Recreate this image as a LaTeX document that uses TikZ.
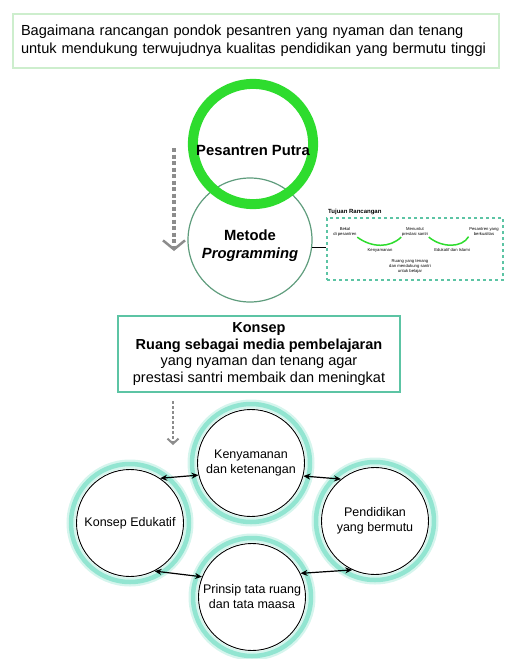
\documentclass[tikz,border=0pt]{standalone}
\usepackage{fontspec}
\setmainfont{Liberation Sans}
\usetikzlibrary{arrows,arrows.meta}
\definecolor{palegreen}{HTML}{CDEECD}
\definecolor{ringgreen}{HTML}{2EDC2E}
\definecolor{metgreen}{HTML}{5E9C7C}
\definecolor{boxteal}{HTML}{5CC4A4}
\definecolor{ringteal}{HTML}{86E2CC}
\definecolor{arrgray}{HTML}{8C8C8C}

\begin{document}
\begin{tikzpicture}[x=1pt,y=-1pt,>={Stealth[length=7pt,width=6pt]},
    big/.style={font=\fontsize{14.6}{18}\selectfont},
    tiny/.style={font=\fontsize{4.2}{5}\selectfont, align=center, inner sep=0.5pt},
    topic/.style={circle, draw=black, line width=0.9pt, minimum size=107pt,
      inner sep=0pt, align=center, font=\fontsize{12.5}{15}\selectfont},
    glow/.style={draw=ringteal!35, line width=9pt},
    glowcore/.style={draw=ringteal!90, line width=4.5pt},
    link/.style={<->, line width=1.2pt}]
    \useasboundingbox (0,0) rectangle (505,659);
    \node[big, draw=palegreen, line width=2pt, text width=470pt, inner xsep=8pt,
      minimum height=54pt, align=left] (Q) at (256,41)
      {Bagaimana rancangan pondok pesantren yang nyaman dan tenang\\
       untuk mendukung terwujudnya kualitas pendidikan yang bermutu tinggi};
    \node[circle, draw=metgreen, line width=1.2pt, minimum size=124pt, align=center,
      font=\bfseries\fontsize{14.8}{18}\selectfont] (M) at (250,240)
      {\\[5pt]Metode\\\textit{Programming}};
    \node[circle, draw=ringgreen, line width=10pt, minimum size=118pt,
      font=\bfseries\fontsize{14.8}{18}\selectfont] (P) at (253,144)
      {\raisebox{-11pt}[0pt][0pt]{Pesantren Putra}};
    \node[draw=boxteal, dashed, line width=1.2pt, minimum width=176pt,
      minimum height=62pt] (T) at (415,249) {};
    \node[anchor=south west, inner sep=1pt, font=\bfseries\fontsize{6}{7}\selectfont]
      (Tt) at (327,216) {Tujuan Rancangan};
    \node[tiny] (t1) at (345,232) {Bekal\\di pesantren};
    \node[tiny] (t2) at (415,232) {Menuntut\\prestasi santri};
    \node[tiny] (t3) at (484,232) {Pesantren yang\\berkualitas};
    \node[tiny] (t4) at (380,250) {Kenyamanan};
    \node[tiny] (t5) at (452,250) {Edukatif dan Islami};
    \node[tiny] (t6) at (410,266) {Ruang yang tenang\\dan mendukung santri\\untuk belajar};
    \draw[ringgreen, line width=1.5pt] (t1.south east) .. controls (372,248) and (390,248) .. (t2.south west);
    \draw[ringgreen, line width=1.5pt] (t2.south east) .. controls (442,248) and (462,248) .. (t3.south west);
    \draw[line width=1.2pt] (M.-7) -- (M.-7 -| T.west);
    \node[draw=boxteal, line width=2pt, minimum width=282pt, minimum height=76pt,
      align=center, font=\fontsize{14.5}{16.6}\selectfont] (K) at (259,354)
      {\textbf{Konsep}\\\textbf{Ruang sebagai media pembelajaran}\\
       yang nyaman dan tenang agar\\prestasi santri membaik dan meningkat};
    \node[topic] (ken) at (251,463) {Kenyamanan\\dan ketenangan};
    \node[topic] (pen) at (375,521) {Pendidikan\\yang bermutu};
    \node[topic] (pri) at (252,597) {Prinsip tata ruang\\dan tata maasa};
    \node[topic] (edu) at (130,523) {Konsep Edukatif};
    \foreach \n in {ken,pen,pri,edu} {
      \draw[glow] (\n) circle (59pt);
      \draw[glowcore] (\n) circle (59pt);
    }
    \draw[link] (edu.56) -- (ken.193);
    \draw[link] (ken.346) -- (pen.129);
    \draw[link] (edu.297) -- (pri.158);
    \draw[link] (pri.26) -- (pen.245);
    \coordinate (a1) at (174,148);
    \coordinate (a2) at (174,251);
    \coordinate (b1) at (173,401);
    \coordinate (b2) at (173,445);
    \draw[arrgray, line width=4pt, dash pattern=on 4pt off 2.5pt,
      -{Straight Barb[length=9pt, width=22pt, line width=2.5pt]}] (a1) -- (a2);
    \draw[arrgray, line width=2.5pt, dash pattern=on 3pt off 2pt,
      -{Straight Barb[length=5pt, width=11pt, line width=2pt]}] (b1) -- (b2);
\end{tikzpicture}
\end{document}
